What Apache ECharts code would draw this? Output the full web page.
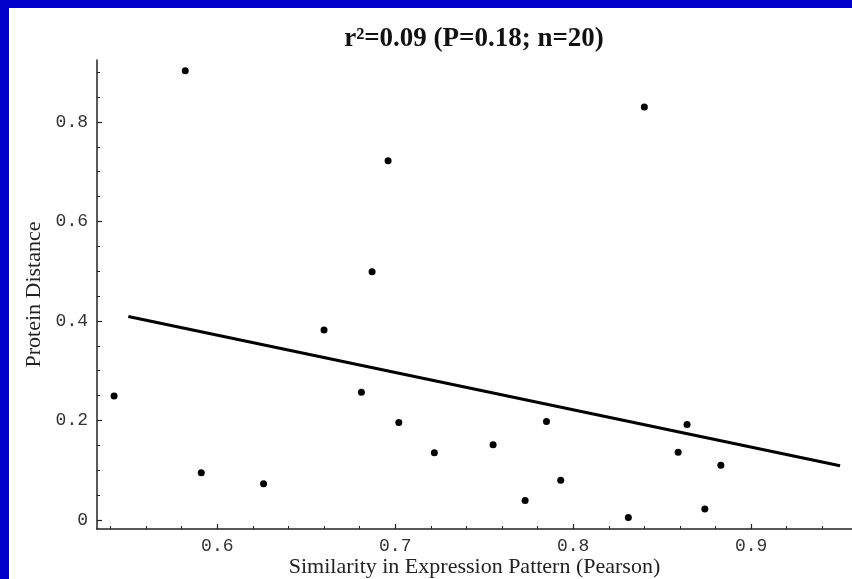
<!DOCTYPE html>
<html>
<head>
<meta charset="utf-8">
<script src="https://cdn.jsdelivr.net/npm/echarts@6/dist/echarts.min.js"></script>
<style>
html,body{margin:0;padding:0;background:#fff;}
#chart{width:852px;height:579px;}
</style>
</head>
<body>
<div id="chart"></div>
<script>
// Scatter data: similarity (Pearson) vs protein distance
var similarity = [0.542,0.582,0.591,0.626,0.660,0.681,0.687,0.696,0.702,0.722,0.755,0.773,0.785,0.793,0.831,0.840,0.859,0.864,0.874,0.883];
var proteinDistance = [0.249,0.903,0.095,0.073,0.382,0.257,0.499,0.722,0.196,0.135,0.151,0.039,0.198,0.080,0.005,0.830,0.136,0.192,0.022,0.110];
// Regression line endpoints
var fitX = [0.55,0.95];
var fitY = [0.409,0.109];
// Ticks
var xMajorTicks = [0.6,0.7,0.8,0.9];
var xMinorTicks = [0.54,0.56,0.58,0.62,0.64,0.66,0.68,0.72,0.74,0.76,0.78,0.82,0.84,0.86,0.88,0.92,0.94];
var yMajorTicks = [0,0.2,0.4,0.6,0.8];
var yMinorTicks = [0.05,0.1,0.15,0.25,0.3,0.35,0.45,0.5,0.55,0.65,0.7,0.75,0.85,0.9];
var titleText = 'r\u00B2=0.09 (P=0.18; n=20)';
var xName = 'Similarity in Expression Pattern (Pearson)';
var yName = 'Protein Distance';

var XMIN = 0.5324, XMAX = 0.9567, YMIN = -0.0181, YMAX = 0.9246;

var chart = echarts.init(document.getElementById('chart'));
var scatterData = similarity.map(function(x,i){return [x, proteinDistance[i]];});
var fitData = fitX.map(function(x,i){return [x, fitY[i]];});
function fmt(v){ return v === 0 ? '0' : v.toFixed(1); }
var labelStyle = {fontFamily:'Liberation Mono', fontSize:18, color:'#333'};

chart.setOption({
  backgroundColor:'#ffffff',
  animation:false,
  graphic:[
    {type:'rect', shape:{x:0,y:0,width:852,height:8}, style:{fill:'#0000c8'}},
    {type:'rect', shape:{x:0,y:0,width:9,height:579}, style:{fill:'#0000c8'}},
    {type:'text', x:474, y:39, style:{text:titleText, textAlign:'center', textVerticalAlign:'middle', verticalAlign:'middle',
      fontFamily:'Liberation Serif', fontWeight:'bold', fontSize:27, fill:'#111'}}
  ],
  grid:{left:97, top:60, right:0, bottom:50, outerBoundsMode:'none', containLabel:false},
  xAxis:[
    {type:'value', min:XMIN, max:XMAX, position:'bottom',
     name:xName, nameLocation:'middle', nameGap:27, nameMoveOverlap:false,
     nameTextStyle:{fontFamily:'Liberation Serif', fontSize:22, color:'#222'},
     axisLine:{show:true, onZero:false, lineStyle:{color:'#222', width:1.5}},
     axisTick:{show:true, inside:true, length:5, customValues:xMajorTicks, lineStyle:{color:'#222', width:1.2}},
     axisLabel:{show:true, customValues:xMajorTicks, margin:8, formatter:fmt, fontFamily:labelStyle.fontFamily, fontSize:labelStyle.fontSize, color:labelStyle.color},
     splitLine:{show:false}},
    {type:'value', min:XMIN, max:XMAX, position:'bottom',
     axisLine:{show:false, onZero:false},
     axisTick:{show:true, inside:true, length:3, customValues:xMinorTicks, lineStyle:{color:'#222', width:1}},
     axisLabel:{show:false}, splitLine:{show:false}}
  ],
  yAxis:[
    {type:'value', min:YMIN, max:YMAX, position:'left',
     name:yName, nameLocation:'middle', nameGap:52, nameRotate:90, nameMoveOverlap:false,
     nameTextStyle:{fontFamily:'Liberation Serif', fontSize:22, color:'#222'},
     axisLine:{show:true, onZero:false, lineStyle:{color:'#222', width:1.5}},
     axisTick:{show:true, inside:true, length:5, customValues:yMajorTicks, lineStyle:{color:'#222', width:1.2}},
     axisLabel:{show:true, customValues:yMajorTicks, margin:9, formatter:fmt, fontFamily:labelStyle.fontFamily, fontSize:labelStyle.fontSize, color:labelStyle.color},
     splitLine:{show:false}},
    {type:'value', min:YMIN, max:YMAX, position:'left',
     axisLine:{show:false, onZero:false},
     axisTick:{show:true, inside:true, length:3, customValues:yMinorTicks, lineStyle:{color:'#222', width:1}},
     axisLabel:{show:false}, splitLine:{show:false}}
  ],
  series:[
    {type:'line', data:fitData, xAxisIndex:0, yAxisIndex:0, symbol:'none',
     lineStyle:{color:'#000', width:3}, silent:true, z:2},
    {type:'scatter', data:scatterData, xAxisIndex:0, yAxisIndex:0, symbol:'circle', symbolSize:7,
     itemStyle:{color:'#000', opacity:1}, z:3}
  ]
});
</script>
</body>
</html>
